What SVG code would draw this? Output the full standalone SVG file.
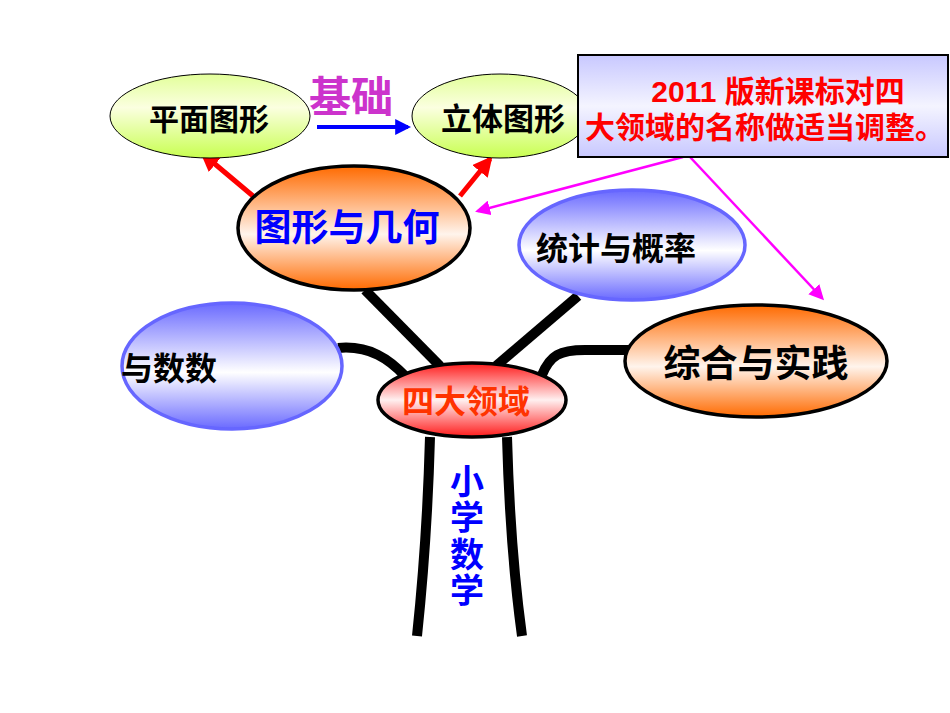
<svg xmlns="http://www.w3.org/2000/svg" width="950" height="713" viewBox="0 0 950 713">
<defs>
<linearGradient id="gOrange" x1="0" y1="0" x2="0" y2="1">
<stop offset="0" stop-color="#ff6a00"/>
<stop offset="0.55" stop-color="#fff4ec"/>
<stop offset="1" stop-color="#ff6a00"/>
</linearGradient>
<linearGradient id="gBlue" x1="0" y1="0" x2="0" y2="1">
<stop offset="0" stop-color="#6a6aff"/>
<stop offset="0.55" stop-color="#ffffff"/>
<stop offset="1" stop-color="#6a6aff"/>
</linearGradient>
<linearGradient id="gRed" x1="0" y1="0" x2="0" y2="1">
<stop offset="0" stop-color="#ff1a1a"/>
<stop offset="0.5" stop-color="#fff0f0"/>
<stop offset="1" stop-color="#ff1a1a"/>
</linearGradient>
<linearGradient id="gGreen" x1="0" y1="0" x2="0" y2="1">
<stop offset="0" stop-color="#e2ff99"/>
<stop offset="0.4" stop-color="#fbffe0"/>
<stop offset="1" stop-color="#c8ff50"/>
</linearGradient>
<linearGradient id="gBox" x1="0" y1="0" x2="0" y2="1">
<stop offset="0" stop-color="#c8c8ff"/>
<stop offset="0.5" stop-color="#f4f4ff"/>
<stop offset="1" stop-color="#c8c8ff"/>
</linearGradient>
<marker id="mRed" viewBox="0 0 10 10" refX="8" refY="5" markerWidth="4" markerHeight="4" orient="auto" markerUnits="strokeWidth">
<path d="M0,0 L10,5 L0,10 z" fill="#ff0000"/>
</marker>
<marker id="mBlue" viewBox="0 0 10 10" refX="8" refY="5" markerWidth="4" markerHeight="4" orient="auto" markerUnits="strokeWidth">
<path d="M0,0 L10,5 L0,10 z" fill="#0000ff"/>
</marker>
<marker id="mMag" viewBox="0 0 10 10" refX="8" refY="5" markerWidth="6" markerHeight="6" orient="auto" markerUnits="strokeWidth">
<path d="M0,0 L10,5 L0,10 z" fill="#ff00ff"/>
</marker>
</defs>
<style>
text { font-family: "Liberation Sans", "Noto Sans CJK SC", sans-serif; font-weight: bold; }
.branch { fill: none; stroke: #000; stroke-width: 10; stroke-linecap: butt; }
.ob { stroke: #000; stroke-width: 3.5; }
.bb { stroke: #6666ff; stroke-width: 3.5; }
.gb { stroke: #000; stroke-width: 1; }
</style>
<g id="connectors">
<path class="branch" d="M430,437 C428,510 424,570 417,636"/>
<path class="branch" d="M507,437 C509,510 513,570 522,636"/>
<path class="branch" d="M338,348 C370,345 390,360 405,376"/>
<path class="branch" d="M365,290 L440,366"/>
<path class="branch" d="M578,296 L496,366"/>
<path class="branch" d="M542,375 C550,355 560,350 585,350 L630,350"/>
<line x1="253" y1="196" x2="203" y2="154" stroke="#ff0000" stroke-width="5" marker-end="url(#mRed)"/>
<line x1="460" y1="196" x2="490" y2="159" stroke="#ff0000" stroke-width="5" marker-end="url(#mRed)"/>
<line x1="317" y1="127" x2="408" y2="127" stroke="#0000ff" stroke-width="4" marker-end="url(#mBlue)"/>
<line x1="683" y1="157" x2="478" y2="211" stroke="#ff00ff" stroke-width="2.5" marker-end="url(#mMag)"/>
<line x1="690" y1="157" x2="822" y2="298" stroke="#ff00ff" stroke-width="2.5" marker-end="url(#mMag)"/>
</g>
<g id="pingmian">
<ellipse cx="210" cy="116" rx="100" ry="42" fill="url(#gGreen)" class="gb"/>
<text x="209" y="130" font-size="30" text-anchor="middle" fill="#000">平面图形</text>
</g>
<g id="liti">
<ellipse cx="500" cy="116" rx="88" ry="42" fill="url(#gGreen)" class="gb"/>
<text x="503" y="130" font-size="31" text-anchor="middle" fill="#000">立体图形</text>
</g>
<g id="jichu">
<text x="351" y="112" font-size="42" text-anchor="middle" fill="#cc33cc">基础</text>
</g>
<g id="note">
<rect x="578" y="55" width="370" height="102" fill="url(#gBox)" stroke="#000" stroke-width="2"/>
<text x="778" y="102" font-size="30" text-anchor="middle" fill="#ff0000">2011 版新课标对四</text>
<text x="765" y="138" font-size="30" text-anchor="middle" fill="#ff0000">大领域的名称做适当调整。</text>
</g>
<g id="tuxing">
<ellipse cx="354" cy="228" rx="116" ry="62" fill="url(#gOrange)" class="ob"/>
<text x="347" y="241" font-size="37" text-anchor="middle" fill="#0000ff">图形与几何</text>
</g>
<g id="tongji">
<ellipse cx="632" cy="245" rx="113" ry="55" fill="url(#gBlue)" class="bb"/>
<text x="616" y="260" font-size="32" text-anchor="middle" fill="#000">统计与概率</text>
</g>
<g id="shuyu">
<ellipse cx="232" cy="366" rx="110" ry="63" fill="url(#gBlue)" class="bb"/>
<text x="121" y="380" font-size="32" fill="#000">与数数</text>
</g>
<g id="zonghe">
<ellipse cx="756" cy="361" rx="131" ry="56" fill="url(#gOrange)" class="ob"/>
<text x="756" y="377" font-size="37" text-anchor="middle" fill="#000">综合与实践</text>
</g>
<g id="sida">
<ellipse cx="472" cy="400" rx="94" ry="37" fill="url(#gRed)" class="ob"/>
<text x="466" y="413" font-size="32" text-anchor="middle" fill="#ff3300">四大领域</text>
</g>
<g id="xiaoxue">
<text x="467" y="494" font-size="34" text-anchor="middle" fill="#0000ff">小</text>
<text x="467" y="530" font-size="34" text-anchor="middle" fill="#0000ff">学</text>
<text x="467" y="567" font-size="34" text-anchor="middle" fill="#0000ff">数</text>
<text x="467" y="603" font-size="34" text-anchor="middle" fill="#0000ff">学</text>
</g>
</svg>
